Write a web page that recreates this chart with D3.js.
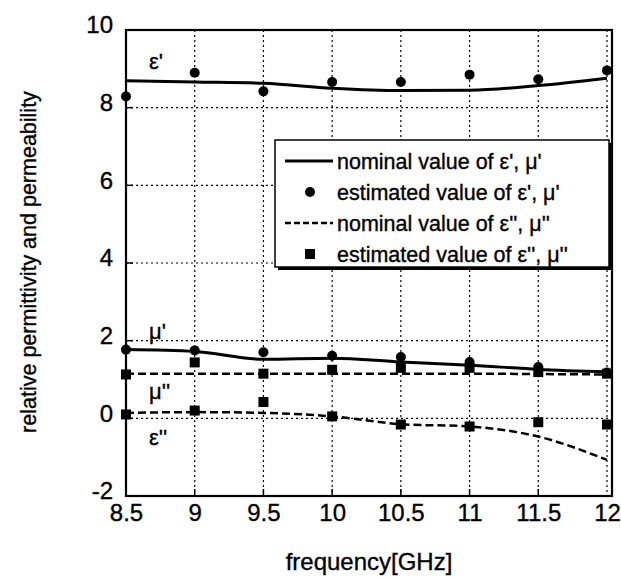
<!DOCTYPE html>
<meta charset="utf-8">
<style>
body { margin: 0; background: #fff; }
text { font-family: "Liberation Sans", Arial, sans-serif; fill: #000; stroke: #000; stroke-width: 0.35px; }
</style>
<body>
<script src="https://d3js.org/d3.v7.min.js"></script>
<script>

// frequencies in GHz
let freq = [8.5, 9, 9.5, 10, 10.5, 11, 11.5, 12];

// nominal values (lines)
let epsRealNominal = [8.69, 8.66, 8.63, 8.5, 8.44, 8.45, 8.57, 8.76];
let muRealNominal = [1.77, 1.72, 1.52, 1.55, 1.45, 1.37, 1.26, 1.2];
let muImagNominal = [1.15, 1.15, 1.15, 1.15, 1.15, 1.15, 1.14, 1.13];
let epsImagNominal = [0.14, 0.16, 0.14, 0.05, -0.15, -0.21, -0.47, -1.07];

// estimated values (markers)
let epsRealEst = [8.29, 8.9, 8.42, 8.66, 8.66, 8.85, 8.73, 8.96];
let muRealEst = [1.77, 1.75, 1.7, 1.61, 1.58, 1.45, 1.32, 1.18];
let muImagEst = [1.13, 1.44, 1.15, 1.25, 1.3, 1.3, 1.19, 1.15];
let epsImagEst = [0.1, 0.2, 0.42, 0.05, -0.16, -0.21, -0.1, -0.16];

let xTicks = [8.5, 9, 9.5, 10, 10.5, 11, 11.5, 12];
let yTicks = [-2, 0, 2, 4, 6, 8, 10];

let legendLabels = [
	"nominal value of \u03b5', \u03bc'",
	"estimated value of \u03b5', \u03bc'",
	"nominal value of \u03b5'', \u03bc''",
	"estimated value of \u03b5'', \u03bc''"
];

let width = 621, height = 579;
let pLeft = 126, pRight = 612, pTop = 30, pBottom = 496;

let x = d3.scaleLinear().domain([8.5, 12]).range([pLeft, 607]);
let y = d3.scaleLinear().domain([-2, 10]).range([pBottom, pTop]);

let svg = d3.select('body').append('svg')
	.attr('width', width)
	.attr('height', height);

// grid
let grid = svg.append('g')
	.attr('stroke', '#000')
	.attr('stroke-width', 1.2)
	.attr('stroke-dasharray', '2,3');
grid.selectAll('.gx').data(xTicks.slice(1))
	.enter().append('line')
	.attr('x1', d => x(d)).attr('x2', d => x(d))
	.attr('y1', pTop).attr('y2', pBottom);
grid.selectAll('.gy').data(yTicks.slice(1, -1))
	.enter().append('line')
	.attr('x1', pLeft).attr('x2', pRight)
	.attr('y1', d => y(d)).attr('y2', d => y(d));

// axes
let xAxis = svg.append('g')
	.attr('transform', 'translate(0,' + pBottom + ')')
	.call(d3.axisBottom(x).tickValues(xTicks).tickSize(0).tickPadding(8).tickFormat(d => String(d)));
xAxis.select('.domain').remove();
xAxis.selectAll('text').attr('font-size', 24);

let yAxis = svg.append('g')
	.attr('transform', 'translate(' + pLeft + ',0)')
	.call(d3.axisLeft(y).tickValues(yTicks).tickSize(0).tickPadding(13).tickFormat(d => String(d)));
yAxis.select('.domain').remove();
yAxis.selectAll('text').attr('font-size', 24).attr('y', -5);

// small inner ticks
svg.append('g').selectAll('line').data(xTicks.slice(1, -1))
	.enter().append('line')
	.attr('x1', d => x(d)).attr('x2', d => x(d))
	.attr('y1', pBottom).attr('y2', pBottom - 7)
	.attr('stroke', '#000').attr('stroke-width', 1.5);
svg.append('g').selectAll('line').data(yTicks.slice(1, -1))
	.enter().append('line')
	.attr('x1', pLeft).attr('x2', pLeft + 7)
	.attr('y1', d => y(d)).attr('y2', d => y(d))
	.attr('stroke', '#000').attr('stroke-width', 1.5);

// frame
svg.append('rect')
	.attr('x', pLeft).attr('y', pTop)
	.attr('width', pRight - pLeft).attr('height', pBottom - pTop)
	.attr('fill', 'none').attr('stroke', '#000').attr('stroke-width', 2.2);

// lines
let line = d3.line()
	.x((d, i) => x(freq[i]))
	.y(d => y(d))
	.curve(d3.curveMonotoneX);

function drawLine(values, dashed) {
	svg.append('path')
		.datum(values)
		.attr('d', line)
		.attr('fill', 'none')
		.attr('stroke', '#000')
		.attr('stroke-width', dashed ? 2.5 : 3)
		.attr('stroke-dasharray', dashed ? '8,4' : null);
}
drawLine(epsRealNominal, false);
drawLine(muRealNominal, false);
drawLine(muImagNominal, true);
drawLine(epsImagNominal, true);

// markers
function drawDots(values) {
	svg.append('g').selectAll('circle').data(values)
		.enter().append('circle')
		.attr('cx', (d, i) => x(freq[i]))
		.attr('cy', d => y(d))
		.attr('r', 5)
		.attr('fill', '#000');
}
function drawSquares(values) {
	svg.append('g').selectAll('rect').data(values)
		.enter().append('rect')
		.attr('x', (d, i) => x(freq[i]) - 5)
		.attr('y', d => y(d) - 5)
		.attr('width', 10).attr('height', 10)
		.attr('fill', '#000');
}
drawDots(epsRealEst);
drawDots(muRealEst);
drawSquares(muImagEst);
drawSquares(epsImagEst);

// curve labels
let curveLabels = [
	{ t: "\u03b5'", v: 9.2 },
	{ t: "\u03bc'", v: 2.25 },
	{ t: "\u03bc''", v: 0.7 },
	{ t: "\u03b5''", v: -0.5 }
];
svg.append('g').selectAll('text').data(curveLabels)
	.enter().append('text')
	.attr('x', 149)
	.attr('y', d => y(d.v))
	.attr('dy', '0.35em')
	.attr('font-size', 22)
	.text(d => d.t);

// legend
let lg = svg.append('g');
let lx = 275, ly = 140, lw = 334, lh = 127;
lg.append('rect')
	.attr('x', lx + 3).attr('y', ly + 3)
	.attr('width', lw).attr('height', lh)
	.attr('fill', '#000');
lg.append('rect')
	.attr('x', lx).attr('y', ly)
	.attr('width', lw).attr('height', lh)
	.attr('fill', '#fff').attr('stroke', '#000').attr('stroke-width', 1.5);

let rows = lg.selectAll('.row').data(legendLabels)
	.enter().append('g')
	.attr('transform', (d, i) => 'translate(0,' + (ly + 21 + i * 31) + ')');
rows.append('text')
	.attr('x', 337)
	.attr('dy', '0.35em')
	.attr('font-size', 21.5)
	.text(d => d);
rows.filter((d, i) => i == 0).append('line')
	.attr('x1', 285).attr('x2', 333)
	.attr('stroke', '#000').attr('stroke-width', 3);
rows.filter((d, i) => i == 2).append('line')
	.attr('x1', 285).attr('x2', 333)
	.attr('stroke', '#000').attr('stroke-width', 2.5)
	.attr('stroke-dasharray', '6,3');
rows.filter((d, i) => i == 1).append('circle')
	.attr('cx', 310).attr('r', 5).attr('fill', '#000');
rows.filter((d, i) => i == 3).append('rect')
	.attr('x', 305).attr('y', -5).attr('width', 10).attr('height', 10)
	.attr('fill', '#000');

// axis titles
svg.append('text')
	.attr('x', 369).attr('y', 570)
	.attr('text-anchor', 'middle')
	.attr('font-size', 24)
	.text('frequency[GHz]');
svg.append('text')
	.attr('transform', 'translate(36,262) rotate(-90)')
	.attr('text-anchor', 'middle')
	.attr('font-size', 21.5)
	.text('relative permittivity and permeability');

</script>
</body>
